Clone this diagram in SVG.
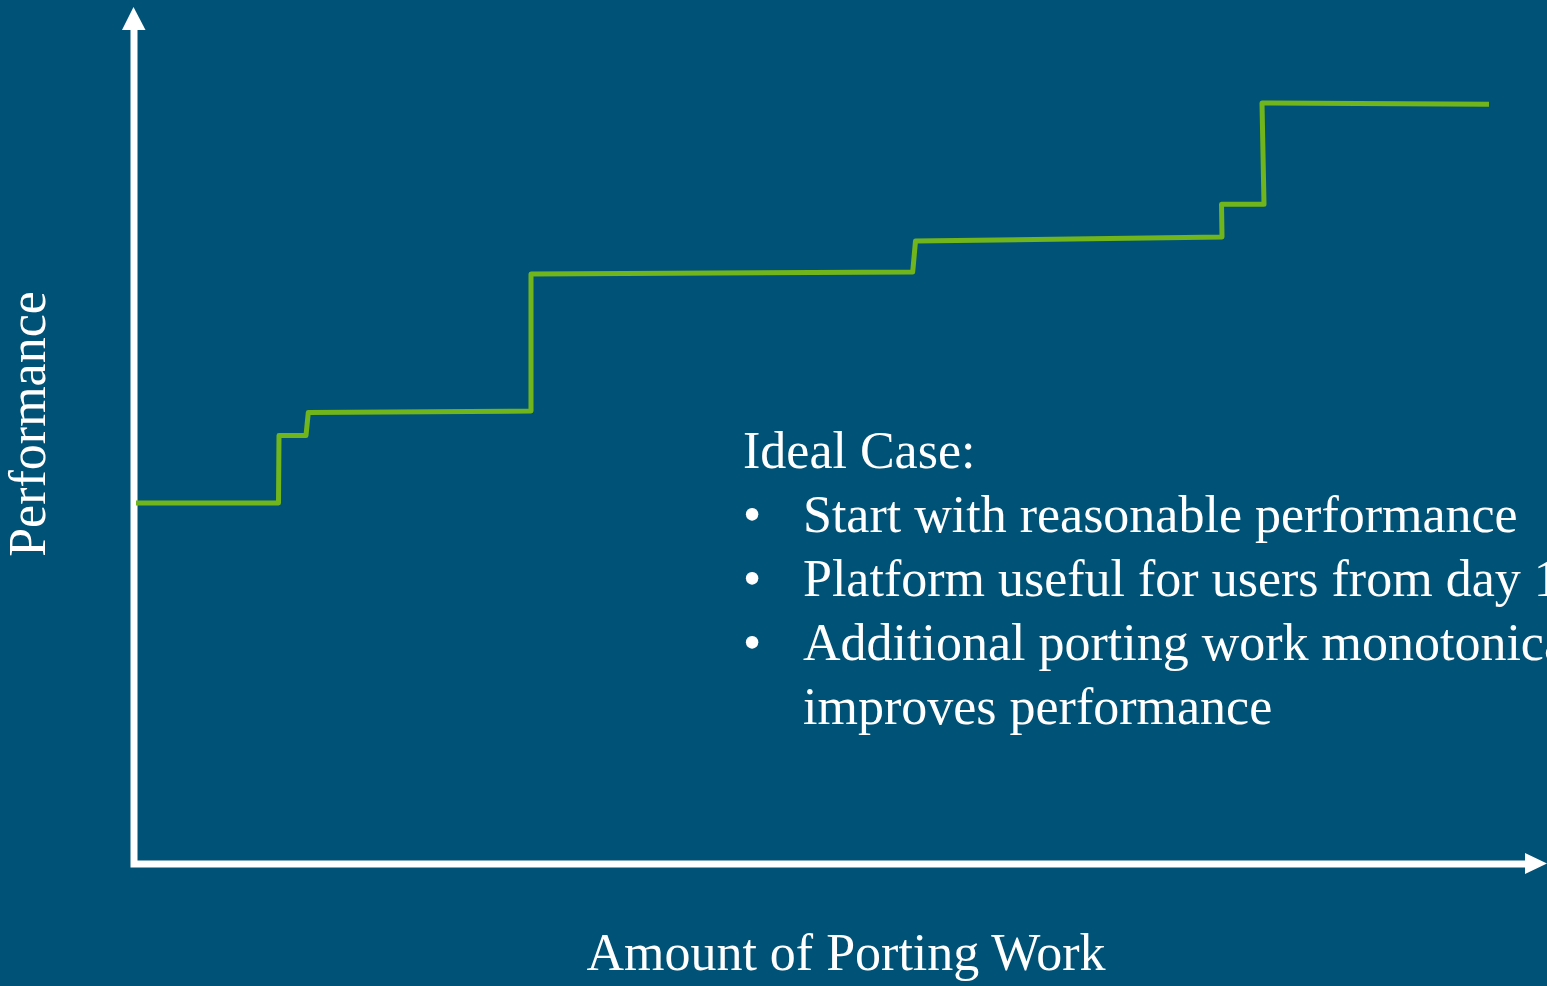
<svg xmlns="http://www.w3.org/2000/svg" width="1547" height="986" viewBox="0 0 1547 986">
  <style>
    .txt { font-family: "Liberation Serif", "DejaVu Serif", serif; fill: #ffffff; font-size: 52px; }
    .axis { stroke: #ffffff; stroke-width: 7; fill: none; }
    .head { fill: #ffffff; }
    .curve { stroke: #71B51D; stroke-width: 5; fill: none; stroke-linejoin: round; stroke-linecap: butt; }
  </style>
  <rect x="0" y="0" width="1547" height="986" fill="#005377"/>
  <g id="connectors">
    <path class="axis" d="M134 30 L134 867.5 L1526 867.5" transform="translate(0,-3.5)"/>
    <polygon class="head" points="133.5,7 145.5,30 122,30"/>
    <polygon class="head" points="1547,863.5 1525,853 1525,874"/>
  </g>
  <g id="performance-curve">
    <polyline class="curve" points="136,503 278.5,503 279,435.5 306,435.5 308.3,412.5 531,411 531,274 912.7,272 915.5,241 1222,237 1221.5,204.3 1264,204.3 1262,103 1489,104.3"/>
  </g>
  <g id="y-label">
    <text class="txt" transform="translate(45,424) rotate(-90)" text-anchor="middle">Performance</text>
  </g>
  <g id="x-label">
    <text class="txt" x="846" y="970" text-anchor="middle">Amount of Porting Work</text>
  </g>
  <g id="ideal-case">
    <text class="txt" x="743" y="468">Ideal Case:</text>
    <text class="txt" x="743" y="532">•</text>
    <text class="txt" x="803" y="532">Start with reasonable performance</text>
    <text class="txt" x="743" y="596">•</text>
    <text class="txt" x="803" y="596">Platform useful for users from day 1</text>
    <text class="txt" x="743" y="660">•</text>
    <text class="txt" x="803" y="660">Additional porting work monotonically</text>
    <text class="txt" x="803" y="724">improves performance</text>
  </g>
</svg>
